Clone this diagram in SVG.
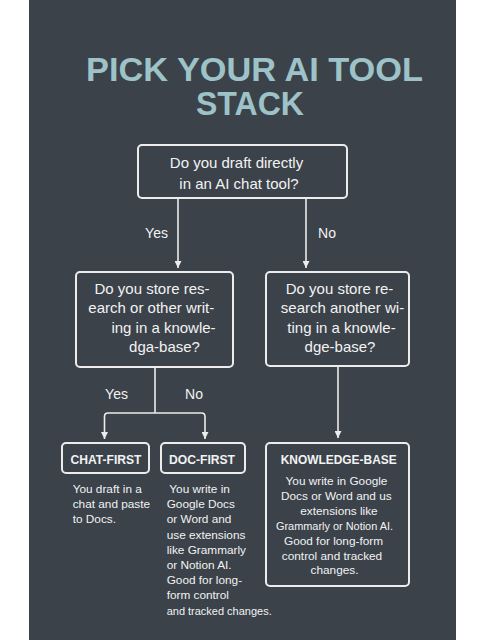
<svg xmlns="http://www.w3.org/2000/svg" width="486" height="640" viewBox="0 0 486 640">
<style>
.bg{fill:#3b424a}
.title{font-family:"Liberation Sans",Arial,sans-serif;font-weight:bold;font-size:33px;fill:#9dc2c7}
.box{fill:#3b424a;stroke:#ececec;stroke-width:2}
.q{font-family:"Liberation Sans",Arial,sans-serif;font-size:15px;fill:#f2f2f2;text-anchor:middle}
.lbl{font-family:"Liberation Sans",Arial,sans-serif;font-size:14px;fill:#f2f2f2;text-anchor:middle}
.h{font-family:"Liberation Sans",Arial,sans-serif;font-size:13.5px;font-weight:bold;fill:#f2f2f2;text-anchor:middle}
.d{font-family:"Liberation Sans",Arial,sans-serif;font-size:11.8px;fill:#f2f2f2}
.c{text-anchor:middle}
.line{fill:none;stroke:#ececec;stroke-width:1.6}
</style>
<defs>
<marker id="arr" viewBox="0 0 8 8" refX="8" refY="4" markerWidth="7" markerHeight="7" markerUnits="userSpaceOnUse" orient="auto">
<path d="M0,0 L8,4 L0,8 z" fill="#ececec"/>
</marker>
</defs>
<rect x="0" y="0" width="486" height="640" fill="#ffffff"/>
<rect class="bg" x="29" y="0" width="427" height="640"/>
<g id="title">
<text class="title" x="86" y="81" textLength="337" lengthAdjust="spacingAndGlyphs">PICK YOUR AI TOOL</text>
<text class="title" x="196" y="115" textLength="108" lengthAdjust="spacingAndGlyphs">STACK</text>
</g>
<g id="connectors">
<path class="line" d="M178 199 V268" marker-end="url(#arr)"/>
<path class="line" d="M306 199 V268" marker-end="url(#arr)"/>
<path class="line" d="M155 367 V413"/>
<path class="line" d="M155 413 H108 Q104.5 413 104.5 416.5 V439" marker-end="url(#arr)"/>
<path class="line" d="M155 413 H201.5 Q205 413 205 416.5 V439" marker-end="url(#arr)"/>
<path class="line" d="M338 367 V438" marker-end="url(#arr)"/>
<text class="lbl" x="156.5" y="238">Yes</text>
<text class="lbl" x="327" y="238">No</text>
<text class="lbl" x="116.5" y="399">Yes</text>
<text class="lbl" x="194" y="399">No</text>
</g>
<g id="q1">
<rect class="box" x="138" y="145" width="209" height="53" rx="4"/>
<text class="q" x="236.5" y="168">Do you draft directly</text>
<text class="q" x="239" y="189">in an AI chat tool?</text>
</g>
<g id="q2">
<rect class="box" x="76" y="272" width="157" height="95" rx="4"/>
<text class="q" x="152" y="294">Do you store res-</text>
<text class="q" x="151.3" y="313">earch or other writ-</text>
<text class="q" x="163.5" y="333">ing in a knowle-</text>
<text class="q" x="164.5" y="352">dga-base?</text>
</g>
<g id="q3">
<rect class="box" x="266" y="272" width="143" height="94" rx="4"/>
<text class="q" x="339.5" y="294">Do you store re-</text>
<text class="q" x="342.5" y="313">search another wi-</text>
<text class="q" x="341.5" y="333">ting in a knowle-</text>
<text class="q" x="340" y="352">dge-base?</text>
</g>
<g id="chat-first">
<rect class="box" x="62" y="443" width="87" height="30" rx="4"/>
<text class="h" x="106" y="464" textLength="71" lengthAdjust="spacingAndGlyphs">CHAT-FIRST</text>
<text class="d" x="72.7" y="492.7">You draft in a</text>
<text class="d" x="72.7" y="508">chat and paste</text>
<text class="d" x="72.7" y="523.3">to Docs.</text>
</g>
<g id="doc-first">
<rect class="box" x="161" y="443" width="84" height="30" rx="4"/>
<text class="h" x="202" y="464" textLength="66" lengthAdjust="spacingAndGlyphs">DOC-FIRST</text>
<text class="d" x="169.3" y="492.7">You write in</text>
<text class="d" x="166.7" y="508.3">Google Docs</text>
<text class="d" x="166.7" y="523.3">or Word and</text>
<text class="d" x="166.7" y="538.5">use extensions</text>
<text class="d" x="166.7" y="554">like Grammarly</text>
<text class="d" x="166.7" y="569">or Notion AI.</text>
<text class="d" x="166.7" y="584.2">Good for long-</text>
<text class="d" x="166.7" y="599.3">form control</text>
<text class="d" x="166.7" y="614.5" textLength="105" lengthAdjust="spacingAndGlyphs">and tracked changes.</text>
</g>
<g id="knowledge-base">
<rect class="box" x="266" y="443" width="143" height="143" rx="4"/>
<text class="h" x="338.7" y="464" textLength="116" lengthAdjust="spacingAndGlyphs">KNOWLEDGE-BASE</text>
<text class="d c" x="336.5" y="485">You write in Google</text>
<text class="d c" x="336.3" y="500">Docs or Word and us</text>
<text class="d c" x="339" y="514.5">extensions like</text>
<text class="d c" x="334.5" y="529.5" textLength="117" lengthAdjust="spacingAndGlyphs">Grammarly or Notion AI.</text>
<text class="d c" x="333.5" y="544.5">Good for long-form</text>
<text class="d c" x="332" y="559.5">control and tracked</text>
<text class="d c" x="334.5" y="574.3">changes.</text>
</g>
</svg>
